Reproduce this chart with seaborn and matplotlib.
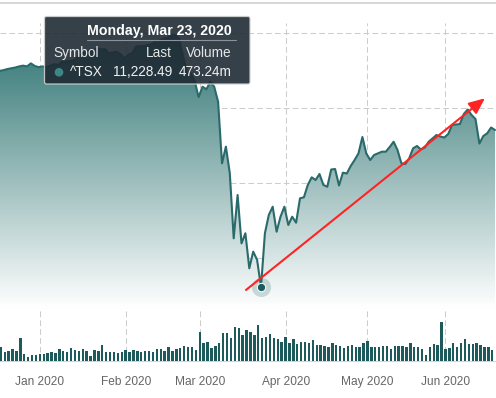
import matplotlib
matplotlib.use("Agg")
import matplotlib.pyplot as plt
import numpy as np
import pandas as pd
import seaborn as sns
from matplotlib.colors import LinearSegmentedColormap
from matplotlib.patches import FancyBboxPatch, Circle

# ---------------------------------------------------------------- data
# TSX trading calendar for the visible window (market holidays removed)
tsx_holidays = ["2019-12-25", "2019-12-26", "2020-01-01",
                "2020-02-17", "2020-04-10", "2020-05-18"]
trading_days = pd.bdate_range("2019-12-13", "2020-06-17").difference(
    pd.to_datetime(tsx_holidays))

# closing level of ^TSX
close_dec = [16990, 17010, 17040, 17060, 17080, 17110, 17130, 17110, 17190, 17120, 17090]
close_jan = [17110, 17090, 17130, 17170, 17150, 17230, 17235, 17260, 17270, 17360, 17430,
             17500, 17530, 17540, 17600, 17560, 17570, 17460, 17480, 17500, 17430, 17320]
close_feb = [17420, 17470, 17640, 17650, 17655, 17680, 17705, 17785, 17795, 17850,
             17865, 17935, 17945, 17845, 17390, 16955, 16920, 16720, 16290]
close_mar = [16568, 16500, 16700, 16568, 16168, 14525, 14970, 14260, 12525, 13680, 12390,
             12660, 11725, 12170, 11950, 11228.49, 12659, 13147, 13368, 12701, 13101, 13368]
close_apr = [12880, 13101, 12941, 13592, 13619, 13947, 14152, 14080, 14240, 13947, 13901,
             14360, 14373, 13933, 14275, 14253, 14453, 14613, 14792, 15227, 14787]
close_may = [14613, 14747, 14792, 14835, 14835, 14960, 15101, 14880, 14525, 14507,
             14659, 14925, 14987, 14893, 14947, 15101, 15192, 15280, 15240, 15213]
close_jun = [15307, 15547, 15560, 15573, 15840, 15960, 15813, 15707, 15053, 15253,
             15325, 15480, 15413]

# daily volume in millions of shares
vol_dec = [150, 184, 122, 135, 158, 131, 302, 92, 53, 79, 79]
vol_jan = [92, 92, 105, 118, 105, 158, 131, 118, 171, 145, 131,
           158, 131, 66, 145, 131, 210, 118, 118, 118, 105, 118]
vol_feb = [145, 118, 145, 131, 118, 131, 131, 118, 158, 158,
           131, 184, 131, 158, 171, 197, 184, 184, 145]
vol_mar = [381, 237, 250, 171, 197, 237, 368, 368, 302, 447, 434,
           342, 408, 381, 342, 473.24, 302, 316, 355, 302, 289, 250]
vol_apr = [316, 237, 289, 224, 250, 250, 237, 276, 210, 210, 197,
           184, 237, 210, 197, 171, 197, 210, 184, 184, 237]
vol_may = [263, 184, 184, 184, 197, 197, 158, 197, 197, 197,
           184, 237, 184, 184, 158, 79, 184, 224, 210, 513]
vol_jun = [158, 171, 237, 184, 237, 289, 224, 224, 237, 210, 184, 184, 145]

month_labels = ["Jan 2020", "Feb 2020", "Mar 2020", "Apr 2020", "May 2020", "Jun 2020"]
symbol = "^TSX"
hover_day = "2020-03-23"

# trend arrow drawn on the chart (trading-day offset, index level)
arrow_start = (52.15, 11147)
arrow_end = (113.4, 16259)

close = np.array(close_dec + close_jan + close_feb + close_mar + close_apr + close_may + close_jun)
volume = np.array(vol_dec + vol_jan + vol_feb + vol_mar + vol_apr + vol_may + vol_jun)

# ordinal axis: one slot per trading day, 0 = first session of 2020
idx = np.arange(len(trading_days)) - list(trading_days).index(pd.Timestamp("2020-01-02"))
first_of_month = [idx[np.argmax((trading_days.year == 2020) & (trading_days.month == m))]
                  for m in range(1, 7)]
month_ticks = [p - 0.7 for p in first_of_month]   # ticks fall at midnight, before the session
hover_i = idx[list(trading_days).index(pd.Timestamp(hover_day))]
hover_close = close[hover_i - idx[0]]
hover_vol = volume[hover_i - idx[0]]

# ---------------------------------------------------------------- style
sns.set_style("white")
plt.rcParams["font.family"] = ["Liberation Sans", "DejaVu Sans"]

W, H = 496, 398
line_col = "#2a6a6a"
bar_col = "#1d5a5c"
grid_col = "#cccccc"
axis_col = "#ccd6eb"
dash = (0, (5.5, 3))
x_lim = (-42.6 / 3.9, (W - 42.6) / 3.9)
price_lim = (10640, 18267)


def rect(left, top, right, bottom):
    return [left / W, 1 - bottom / H, (right - left) / W, (bottom - top) / H]


fig = plt.figure(figsize=(W / 100, H / 100), dpi=100)
ax = fig.add_axes(rect(0, 23, W, 309))
axv = fig.add_axes(rect(0, 309, W, 361))

# ---------------------------------------------------------------- price panel
poly = ax.fill_between(idx, close, price_lim[0], color="none", lw=0)
cmap = LinearSegmentedColormap.from_list("fade", ["#266f6d", "#ffffff"])
grad = ax.imshow(np.linspace(0, 1, 256).reshape(-1, 1), cmap=cmap, aspect="auto",
                 extent=[x_lim[0] - 2, x_lim[1] + 2, price_lim[0], price_lim[1]],
                 interpolation="bicubic", zorder=1)
grad.set_clip_path(poly.get_paths()[0], ax.transData)

sns.lineplot(x=idx, y=close, ax=ax, color=line_col, linewidth=1.5, zorder=3)

ax.scatter([hover_i], [hover_close], s=190, color=line_col, alpha=0.22, lw=0, zorder=4)
ax.scatter([hover_i], [hover_close], s=36, color=bar_col, edgecolor="white", lw=0.7, zorder=5)

ax.annotate("", xy=arrow_end, xytext=arrow_start, annotation_clip=False, zorder=6,
            arrowprops=dict(arrowstyle="-|>,head_length=0.8,head_width=0.35",
                            mutation_scale=12, color="#ff2424", lw=1.5,
                            shrinkA=0, shrinkB=0))

ax.set_xlim(*x_lim)
ax.set_ylim(*price_lim)
ax.set_xticks(month_ticks)
ax.set_yticks([12000, 14000, 16000, 18000])
ax.grid(True, color=grid_col, lw=0.75, linestyle=dash)
ax.tick_params(length=0, labelbottom=False, labelleft=False)
ax.set_xlabel("")
ax.set_ylabel("")
for side in ["top", "left", "right"]:
    ax.spines[side].set_visible(False)
ax.spines["bottom"].set_color(grid_col)
ax.spines["bottom"].set_linewidth(0.75)
ax.spines["bottom"].set_linestyle(dash)

# ---------------------------------------------------------------- volume panel
sns.barplot(x=idx - 0.7, y=volume, ax=axv, native_scale=True, width=0.62,
            color=bar_col, saturation=1, errorbar=None, linewidth=0, zorder=3)
for bar in axv.patches:
    bar.set_antialiased(False)
axv.set_xlim(*x_lim)
axv.set_ylim(0, 52 * hover_vol / 36)
axv.set_xticks(month_ticks)
axv.set_xticklabels(month_labels)
axv.set_yticks([])
axv.grid(True, axis="x", color=grid_col, lw=0.75, linestyle=dash)
axv.tick_params(axis="x", length=6, width=0.8, color=axis_col, pad=4.5,
                labelsize=8.6, labelcolor="#666666")
axv.set_xlabel("")
axv.set_ylabel("")
for side in ["top", "left", "right"]:
    axv.spines[side].set_visible(False)
axv.spines["bottom"].set_color(axis_col)
axv.spines["bottom"].set_linewidth(0.8)
axv.set_zorder(0)

# ---------------------------------------------------------------- tooltip (pixel space)
ov = fig.add_axes([0, 0, 1, 1])
ov.set_xlim(0, W)
ov.set_ylim(H, 0)
ov.axis("off")
ov.plot([0, W], [2.7, 2.7], color="#cccccc", lw=1.1)

ov.add_patch(FancyBboxPatch((44.5, 16.5), 205.5, 67.5,
                            boxstyle="round,pad=0,rounding_size=2",
                            facecolor="#1f2b35", alpha=0.9,
                            edgecolor="#d0d0d0", lw=0.9))
day_txt = pd.Timestamp(hover_day).strftime("%A, %b %d, %Y")
ov.text(232, 35.3, day_txt, ha="right", va="baseline", color="white",
        fontsize=10.2, fontweight="bold")
ov.plot([87, 236], [40.3, 40.3], color="#8a939b", lw=0.8)
ov.text(53, 57, "Symbol", ha="left", va="baseline", color="#e6e6e6", fontsize=9.8)
ov.text(172, 57, "Last", ha="right", va="baseline", color="#e6e6e6", fontsize=9.8)
ov.text(232, 57, "Volume", ha="right", va="baseline", color="#e6e6e6", fontsize=9.8)
ov.add_patch(Circle((59, 72.3), 3.6, color="#3d8784"))
ov.text(70, 76, symbol, ha="left", va="baseline", color="#f0f0f0", fontsize=9.8)
ov.text(172, 76, f"{hover_close:,.2f}", ha="right", va="baseline", color="#f0f0f0", fontsize=9.8)
ov.text(232, 76, f"{hover_vol:.2f}m", ha="right", va="baseline", color="#f0f0f0", fontsize=9.8)

fig.savefig("out.png", dpi=100)
